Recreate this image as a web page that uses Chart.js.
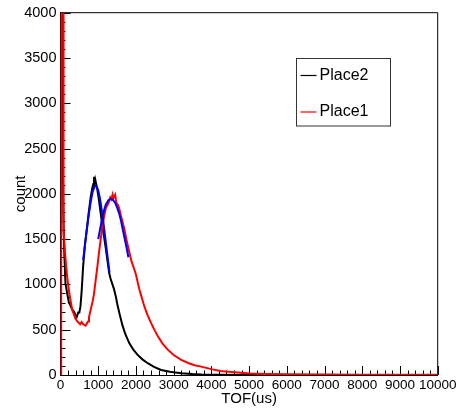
<!DOCTYPE html>
<html>
<head>
<meta charset="utf-8">
<title>TOF</title>
<script src="https://cdn.jsdelivr.net/npm/chart.js@4.4.1/dist/chart.umd.min.js"></script>
<style>
  html, body { margin: 0; padding: 0; background: #fff; }
  #wrap { width: 461px; height: 410px; }
</style>
</head>
<body>
<div id="wrap"><canvas id="tofChart" width="461" height="410"></canvas></div>
<script>
// axis ticks
const xTickLabels = [0, 1000, 2000, 3000, 4000, 5000, 6000, 7000, 8000, 9000, 10000];
const yTickLabels = [0, 500, 1000, 1500, 2000, 2500, 3000, 3500, 4000];

// Place2 (black) histogram
const place2Tof = [0, 12, 14, 58, 62, 80, 100, 132, 178, 222, 270, 311, 355, 400, 430, 444, 470, 500, 530, 560,
  600, 650, 700, 750, 800, 840, 870, 888, 900, 920, 950, 977, 1020, 1066, 1110, 1155, 1200, 1244, 1288, 1330,
  1377, 1422, 1470, 1512, 1580, 1645, 1720, 1822, 1930, 2045, 2180, 2312, 2480, 2667, 2900, 3200, 3500, 3733,
  4200, 5000, 6000, 10000];
const place2Count = [0, 0, 9000, 9000, 2300, 1700, 1350, 1010, 900, 800, 760, 722, 700, 660, 640, 655, 690, 690, 760, 920,
  1200, 1450, 1620, 1800, 1960, 2060, 2110, 2190, 2120, 2160, 2100, 2044, 1930, 1785, 1650, 1526, 1400, 1267, 1130, 1060,
  1000, 944, 860, 770, 650, 545, 450, 352, 280, 222, 170, 130, 90, 56, 35, 20, 10, 5,
  3, 1, 1, 0];

// Place1 (red) histogram
const place1Tof = [0, 16, 18, 68, 72, 90, 115, 150, 178, 220, 267, 310, 355, 400, 450, 488, 520, 560, 600, 640,
  667, 700, 730, 755, 800, 850, 888, 930, 977, 1020, 1066, 1110, 1155, 1200, 1250, 1288, 1320, 1350, 1380, 1400,
  1422, 1450, 1480, 1520, 1555, 1600, 1650, 1688, 1750, 1822, 1880, 1955, 2000, 2088, 2150, 2222, 2300, 2400,
  2500, 2578, 2700, 2844, 3000, 3200, 3400, 3555, 3700, 4000, 4233, 4622, 5022, 5500, 6000, 7000, 8000, 9000, 10000];
const place1Count = [0, 0, 9000, 9000, 1800, 1600, 1380, 1200, 1080, 940, 820, 720, 670, 620, 590, 575, 560, 585, 560, 550,
  545, 570, 590, 637, 720, 810, 896, 1040, 1193, 1350, 1500, 1640, 1748, 1840, 1880, 1915, 1960, 1940, 1990, 1950,
  1970, 1990, 1900, 1880, 1840, 1760, 1680, 1620, 1490, 1360, 1260, 1167, 1110, 950, 860, 760, 670, 575,
  490, 430, 350, 280, 220, 167, 130, 108, 95, 65, 45, 30, 17, 10, 7, 5, 3, 2, 2];

// gaussian fits drawn over the two peaks (blue)
const fit2Tof = [600, 650, 700, 750, 800, 850, 900, 930, 960, 1000, 1050, 1100, 1150, 1200, 1250, 1300];
const fit2Count = [1270, 1440, 1610, 1770, 1910, 2020, 2080, 2090, 2080, 2040, 1940, 1800, 1640, 1470, 1300, 1130];
const fit1Tof = [1000, 1050, 1100, 1150, 1200, 1270, 1330, 1400, 1450, 1500, 1550, 1600, 1650, 1700, 1750, 1800];
const fit1Count = [1500, 1610, 1720, 1810, 1880, 1930, 1945, 1930, 1900, 1850, 1790, 1710, 1610, 1510, 1410, 1300];

const legendEntries = ['Place2', 'Place1'];

function toPoints(xs, ys) {
    return xs.map((x, i) => ({ x: x, y: ys[i] }));
}

const FONT = 'Liberation Sans, Arial, Helvetica, sans-serif';

// ROOT style frame: ticks pointing inwards, closed box
const rootFrame = {
    id: 'rootFrame',
    beforeDatasetsDraw(chart) {
        const { ctx, chartArea: a, scales: { x, y } } = chart;
        ctx.save();
        ctx.strokeStyle = '#000';
        ctx.lineWidth = 1;
        ctx.beginPath();
        for (let v = x.min; v <= x.max; v += 200) {
            const px = Math.round(x.getPixelForValue(v)) + 0.5;
            const len = v % 1000 === 0 ? 9 : 4.5;
            ctx.moveTo(px, a.bottom);
            ctx.lineTo(px, a.bottom - len);
        }
        for (let v = y.min; v <= y.max; v += 100) {
            const py = Math.round(y.getPixelForValue(v)) + 0.5;
            const len = v % 500 === 0 ? 10 : 5;
            ctx.moveTo(a.left, py);
            ctx.lineTo(a.left + len, py);
        }
        ctx.stroke();
        ctx.beginPath();
        ctx.moveTo(a.left, a.top);
        ctx.lineTo(a.right, a.top);
        ctx.lineTo(a.right, a.bottom);
        ctx.stroke();
        ctx.restore();
    }
};

const rootLegend = {
    id: 'rootLegend',
    afterDraw(chart) {
        const ctx = chart.ctx;
        const box = { left: 296.5, top: 58.5, width: 94, height: 67.5 };
        ctx.save();
        ctx.fillStyle = '#fff';
        ctx.fillRect(box.left, box.top, box.width, box.height);
        ctx.strokeStyle = '#333';
        ctx.lineWidth = 1;
        ctx.strokeRect(box.left, box.top, box.width, box.height);
        ctx.font = '16px ' + FONT;
        ctx.textBaseline = 'middle';
        ctx.textAlign = 'left';
        legendEntries.forEach(function (label, i) {
            const ds = chart.data.datasets.find(d => d.label === label);
            const yy = box.top + 17 + i * 36.5;
            ctx.strokeStyle = ds.borderColor;
            ctx.lineWidth = 1.2;
            ctx.beginPath();
            ctx.moveTo(box.left + 4, yy);
            ctx.lineTo(box.left + 20, yy);
            ctx.stroke();
            ctx.fillStyle = '#000';
            ctx.fillText(label, box.left + 23, yy);
        });
        ctx.restore();
    }
};

const whiteBg = {
    id: 'whiteBg',
    beforeDraw(chart) {
        const ctx = chart.ctx;
        ctx.save();
        ctx.fillStyle = '#fff';
        ctx.fillRect(0, 0, chart.width, chart.height);
        ctx.restore();
    }
};

const canvas = document.getElementById('tofChart');
new Chart(canvas, {
    type: 'line',
    data: {
        datasets: [
            {
                label: 'fit2',
                data: toPoints(fit2Tof, fit2Count),
                borderColor: '#0000ff',
                borderWidth: 2,
                order: 0
            },
            {
                label: 'fit1',
                data: toPoints(fit1Tof, fit1Count),
                borderColor: '#0000ff',
                borderWidth: 2,
                order: 0
            },
            {
                label: 'Place1',
                data: toPoints(place1Tof, place1Count),
                borderColor: '#ff0000',
                borderWidth: 2,
                order: 1
            },
            {
                label: 'Place2',
                data: toPoints(place2Tof, place2Count),
                borderColor: '#000000',
                borderWidth: 2,
                order: 2
            }
        ]
    },
    options: {
        responsive: false,
        animation: false,
        events: [],
        parsing: false,
        elements: {
            point: { radius: 0 },
            line: { tension: 0, fill: false }
        },
        layout: { padding: { top: 12.5, right: 23.3, left: 0, bottom: 0 } },
        plugins: {
            legend: { display: false },
            tooltip: { enabled: false }
        },
        scales: {
            x: {
                type: 'linear',
                min: 0,
                max: 10000,
                afterBuildTicks: function (scale) {
                    scale.ticks = xTickLabels.map(v => ({ value: v }));
                },
                afterFit: function (scale) { scale.height = 35; },
                grid: { display: false, drawTicks: false },
                border: { display: true, color: '#000', width: 1 },
                ticks: {
                    autoSkip: false,
                    maxRotation: 0,
                    padding: 2,
                    color: '#000',
                    font: { family: FONT, size: 13.5 },
                    callback: function (value) { return String(value); }
                },
                title: {
                    display: true,
                    text: 'TOF(us)',
                    color: '#000',
                    font: { family: FONT, size: 15 },
                    padding: { top: 0, bottom: 2.5 }
                }
            },
            y: {
                type: 'linear',
                min: 0,
                max: 4000,
                afterBuildTicks: function (scale) {
                    scale.ticks = yTickLabels.map(v => ({ value: v }));
                },
                afterFit: function (scale) { scale.width = 60.5; },
                grid: { display: false, drawTicks: false },
                border: { display: true, color: '#000', width: 1 },
                ticks: {
                    autoSkip: false,
                    padding: 4,
                    color: '#000',
                    font: { family: FONT, size: 14.5 },
                    callback: function (value) { return String(value); }
                },
                title: {
                    display: true,
                    text: 'count',
                    color: '#000',
                    font: { family: FONT, size: 15 },
                    padding: { top: 12.3, bottom: 0 }
                }
            }
        }
    },
    plugins: [whiteBg, rootFrame, rootLegend]
});
</script>
</body>
</html>
